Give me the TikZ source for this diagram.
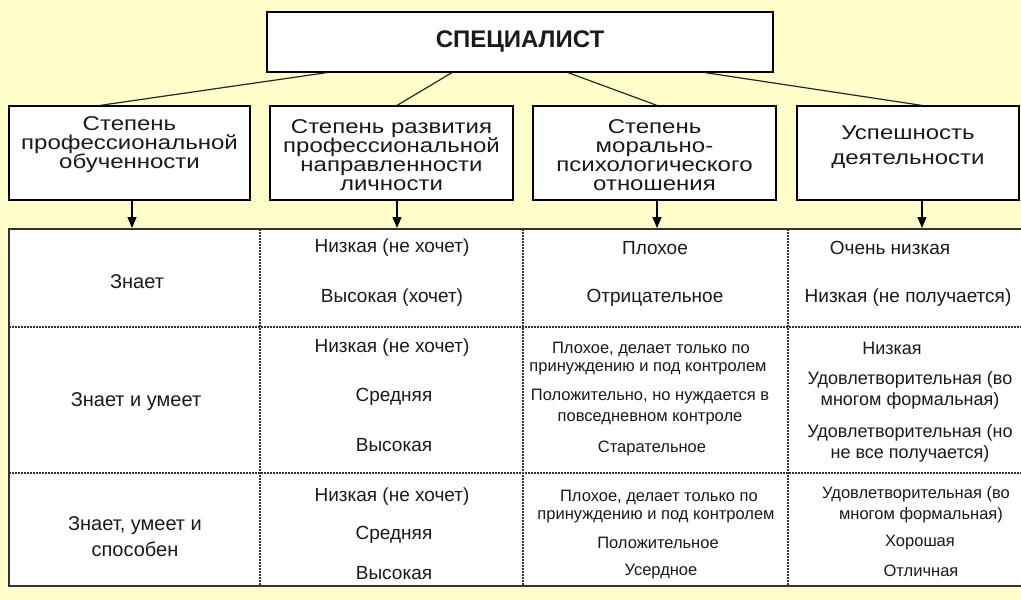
\documentclass[tikz,border=0pt]{standalone}
\usepackage{fontspec}
\setmainfont{Liberation Sans}
\newfontfamily\hdrfont[FakeStretch=1.2]{Liberation Sans}
\usetikzlibrary{arrows.meta}
\definecolor{bgc}{HTML}{FFFFCC}
\definecolor{ink}{HTML}{1A1A1A}
\definecolor{rulec}{HTML}{333333}
\begin{document}
\begin{tikzpicture}[x=1pt,y=-1pt,
  box/.style={draw=black, line width=1.2pt, fill=white, inner sep=0pt},
  hdr/.style={font=\hdrfont\fontsize{20}{19}\selectfont, align=center, text=ink, inner sep=0pt},
  cell/.style={font=\fontsize{19}{22}\selectfont, text=ink, inner sep=0pt},
  bigcell/.style={font=\fontsize{20}{26}\selectfont, text=ink, inner sep=0pt, align=center},
  small/.style={font=\fontsize{16.5}{20}\selectfont, text=ink, inner sep=0pt},
  link/.style={draw=black!85, line width=1.2pt},
  arr/.style={draw=black, line width=1.2pt, -{Triangle[width=9pt,length=11pt]}},
  dots/.style={draw=rulec, line width=1.5pt, dash pattern=on 1.5pt off 1.5pt},
  border/.style={draw=rulec, line width=2pt}
]
\useasboundingbox (0,0) rectangle (1021,600);
\fill[bgc] (0,0) rectangle (1021,600);

% top box
\node[box, minimum width=506, minimum height=60, font=\bfseries\fontsize{24}{28}\selectfont, text=ink] (spec) at (520,42) {СПЕЦИАЛИСТ};

% header boxes
\node[box, minimum width=241, minimum height=94] (h1) at (129.5,153) {};
\node[box, minimum width=243, minimum height=94] (h2) at (391.5,153) {};
\node[box, minimum width=243, minimum height=94] (h3) at (654.5,153) {};
\node[box, minimum width=222, minimum height=94] (h4) at (908,153) {};

\node[hdr] (t1) at (129.5,145) {Степень\\профессиональной\\обученности};
\node[hdr] (t2) at (391.5,155) {Степень развития\\профессиональной\\направленности\\личности};
\node[hdr] (t3) at (654.5,155) {Степень\\морально-\\психологического\\отношения};
\node[hdr, font=\hdrfont\fontsize{20}{25}\selectfont] (t4) at (908,147) {Успешность\\деятельности};

% links
\draw[link] ([xshift=-193]spec.south) -- ([xshift=-29.5]h1.north);
\draw[link] ([xshift=-68]spec.south) -- ([xshift=5.5]h2.north);
\draw[link] ([xshift=48]spec.south) -- ([xshift=2.5]h3.north);
\draw[link] ([xshift=185]spec.south) -- ([xshift=14]h4.north);

% table
\node[fill=white, inner sep=0pt, minimum width=1012, minimum height=357, anchor=north west] (tbl) at (9,229) {};
\draw[dots] ([xshift=251]tbl.north west) -- ([xshift=251]tbl.south west);
\draw[dots] ([xshift=514]tbl.north west) -- ([xshift=514]tbl.south west);
\draw[dots] ([xshift=779]tbl.north west) -- ([xshift=779]tbl.south west);
\draw[dots] ([yshift=-98]tbl.north west) -- ([yshift=-98]tbl.north east);
\draw[dots] ([yshift=-244]tbl.north west) -- ([yshift=-244]tbl.north east);
\draw[border] (tbl.north east) -- (tbl.north west) -- (tbl.south west) -- (tbl.south east);

% arrows
\coordinate (a1) at (132,228);
\coordinate (a2) at (397,228);
\coordinate (a3) at (657,228);
\coordinate (a4) at (922,228);
\draw[arr] (h1.south -| a1) -- (a1);
\draw[arr] (h2.south -| a2) -- (a2);
\draw[arr] (h3.south -| a3) -- (a3);
\draw[arr] (h4.south -| a4) -- (a4);

% column 1
\node[bigcell] (k1) at (137,282) {Знает};
\node[bigcell] (k2) at (136,402) {Знает и умеет};
\node[bigcell] (k3) at (135,537) {Знает, умеет и\\способен};

% column 2
\node[cell] (p1a) at (392,248) {Низкая (не хочет)};
\node[cell] (p1b) at (392,298) {Высокая (хочет)};
\node[cell] (p2a) at (392,348) {Низкая (не хочет)};
\node[cell] (p2b) at (394,397) {Средняя};
\node[cell] (p2c) at (394,445) {Высокая};
\node[cell] (p3a) at (392,497) {Низкая (не хочет)};
\node[cell] (p3b) at (394,535) {Средняя};
\node[cell] (p3c) at (394,573) {Высокая};

% column 3
\node[cell] (m1a) at (655,248) {Плохое};
\node[cell] (m1b) at (655,298) {Отрицательное};
\node[small] (m2a) at (651,349) {Плохое, делает только по};
\node[small] (m2b) at (648,369) {принуждению и под контролем};
\node[small] (m2c) at (650,397) {Положительно, но нуждается в};
\node[small] (m2d) at (650,419) {повседневном контроле};
\node[small] (m2e) at (652,448) {Старательное};
\node[small] (m3a) at (659,497) {Плохое, делает только по};
\node[small] (m3b) at (656,517) {принуждению и под контролем};
\node[small] (m3c) at (658,543) {Положительное};
\node[small] (m3d) at (661,572) {Усердное};

% column 4
\node[cell] (s1a) at (890,248) {Очень низкая};
\node[cell] (s1b) at (908,298) {Низкая (не получается)};
\node[cell, font=\fontsize{18}{22}\selectfont] (s2a) at (892,348) {Низкая};
\node[cell, font=\fontsize{18}{22}\selectfont] (s2b) at (910,380) {Удовлетворительная (во};
\node[cell, font=\fontsize{18}{22}\selectfont] (s2c) at (910,401) {многом формальная)};
\node[cell, font=\fontsize{18}{22}\selectfont] (s2d) at (910,433) {Удовлетворительная (но};
\node[cell, font=\fontsize{18}{22}\selectfont] (s2e) at (910,454) {не все получается)};
\node[small] (s3a) at (916,494) {Удовлетворительная (во};
\node[small] (s3b) at (921,515) {многом формальная)};
\node[small] (s3c) at (920,543) {Хорошая};
\node[small] (s3d) at (921,571) {Отличная};
\end{tikzpicture}
\end{document}
